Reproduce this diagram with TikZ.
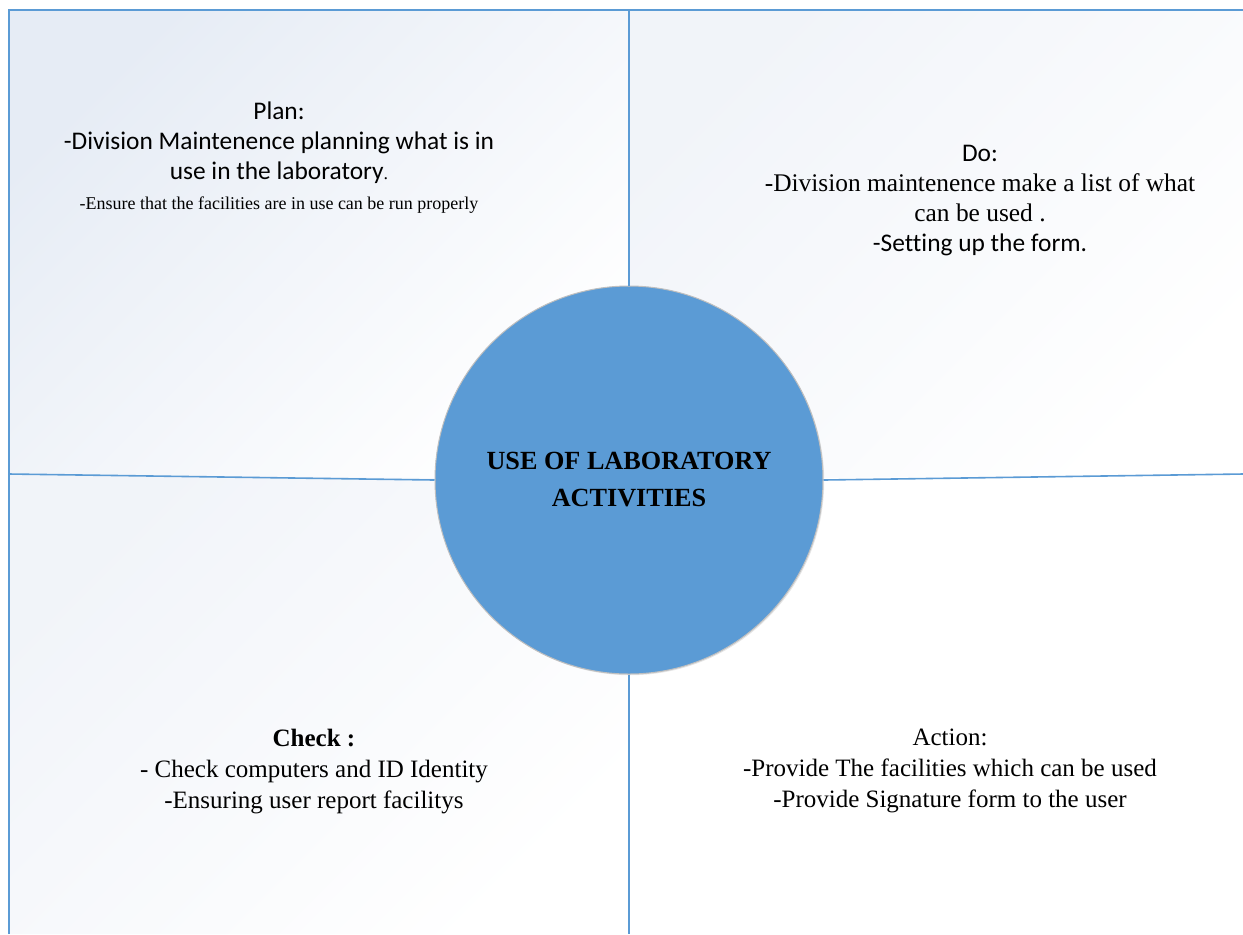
\documentclass[tikz,border=0pt]{standalone}
\usepackage{fontspec}
\setmainfont{Liberation Serif}
\newfontfamily\calibfont[Ligatures=CommonOff]{Carlito}
\usetikzlibrary{shadows, positioning, calc}

\definecolor{gridblue}{HTML}{5B9BD5}
\definecolor{hubblue}{HTML}{5B9BD5}
\definecolor{quadtint}{HTML}{E6ECF5}
\definecolor{quadtintlight}{HTML}{F1F4F9}

\begin{document}
\begin{tikzpicture}[
    x=0.5pt, y=-0.5pt,
    % --- stiluri ---
    divider/.style={draw=gridblue, line width=0.8pt},
    quadfill/.style={shade, top color=#1, bottom color=white, shading angle=45},
    hub/.style={
            circle,
            fill=hubblue,
            draw=black!25,
            line width=0.5pt,
            minimum size=194pt,
            inner sep=0pt,
            align=center,
            font=\bfseries\fontsize{13.1}{18.5}\selectfont,
            drop shadow={opacity=0.2, shadow xshift=0.6pt, shadow yshift=-0.6pt}
        },
    quadtext/.style={
            align=center,
            inner sep=0pt,
            font=\fontsize{12.5}{15.5}\selectfont
        }
    ]

    \useasboundingbox (0,0) rectangle (1243,934);

    % colturi si mijloace
    \coordinate (tl) at (9,10);
    \coordinate (tm) at (629,10);
    \coordinate (tr) at (1243,10);
    \coordinate (ml) at (9,474);
    \coordinate (mc) at (629,480);
    \coordinate (mr) at (1243,474);
    \coordinate (bl) at (9,934);
    \coordinate (bm) at (629,934);
    \coordinate (br) at (1243,934);

    % 1. Cele patru cadrane
    \path[quadfill=quadtint] (tl) -- (tm) -- (mc) -- (ml) -- cycle;
    \path[quadfill=quadtintlight] (tm) -- (tr) -- (mr) -- (mc) -- cycle;
    \path[quadfill=quadtintlight] (ml) -- (mc) -- (bm) -- (bl) -- cycle;
    \path[fill=white] (mc) -- (mr) -- (br) -- (bm) -- cycle;

    % 2. Cercul central
    \node[hub] (hub) at (mc) {USE OF LABORATORY\\ACTIVITIES};

    % 3. Liniile de separare
    \draw[divider] (bl) -- (tl) -- (tr);
    \draw[divider] (tm) -- (hub.north);
    \draw[divider] (hub.south) -- (bm);
    \draw[divider] (ml) -- (hub.west);
    \draw[divider] (hub.east) -- (mr);

    % 4. Textele
    \node[quadtext, font=\calibfont\fontsize{12.7}{15}\selectfont] (plan) at (279,158) {
        Plan:\\
        -Division Maintenence planning what is in\\
        use in the laboratory{\rmfamily\fontsize{9}{11}\selectfont.}\\
        {\rmfamily\fontsize{9}{11}\selectfont -Ensure that the facilities are in use can be run properly}
    };

    \node[quadtext, font=\calibfont\fontsize{12.7}{15}\selectfont] (do) at (980,201) {
        Do:\\
        {\rmfamily -Division maintenence make a list of what}\\
        {\rmfamily can be used .}\\
        -Setting up the form.
    };

    \node[quadtext] (check) at (314,772) {
        {\bfseries Check :}\\
        - Check computers and ID Identity\\
        -Ensuring user report facilitys
    };

    \node[quadtext] (action) at (950,771) {
        Action:\\
        -Provide The facilities which can be used\\
        -Provide Signature form to the user
    };

\end{tikzpicture}
\end{document}
